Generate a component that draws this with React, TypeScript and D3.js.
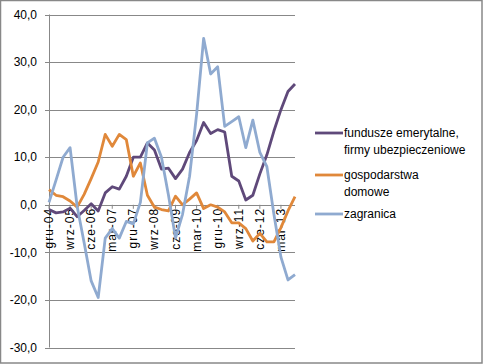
import React from 'react';
import * as d3 from 'd3';

const quarters = [
  'gru-04', 'mar-05', 'cze-05', 'wrz-05', 'gru-05', 'mar-06', 'cze-06', 'wrz-06', 'gru-06',
  'mar-07', 'cze-07', 'wrz-07', 'gru-07', 'mar-08', 'cze-08', 'wrz-08', 'gru-08', 'mar-09',
  'cze-09', 'wrz-09', 'gru-09', 'mar-10', 'cze-10', 'wrz-10', 'gru-10', 'mar-11', 'cze-11',
  'wrz-11', 'gru-11', 'mar-12', 'cze-12', 'wrz-12', 'gru-12', 'mar-13', 'cze-13', 'wrz-13',
];

const fundusze = [
  -1, -1.7, -1.5, -0.7, -2.5, -1.2, 0.2, -1.3, 2.5, 3.8, 3.3, 6, 10, 10, 13, 11.5, 7.5, 7.7,
  5.5, 7.5, 11, 13.5, 17.3, 15, 15.8, 15.3, 6, 5, 1, 2, 6.5, 10.5, 15.5, 20, 23.8, 25.4,
];
const gospodarstwa = [
  3.2, 2, 1.7, 0.8, -0.5, 2.2, 5.5, 9, 14.8, 12.3, 14.8, 13.7, 6, 8.8, 2, -0.5, -1, -1.3,
  1.8, 0, 1.2, 2.5, -0.8, 0, -0.5, -1.5, -3.8, -3.8, -5, -7.6, -6, -7.8, -7.8, -4.8, -1.3, 1.7,
];
const zagranica = [
  0.5, 5.2, 10, 12, -0.3, -8, -16, -19.5, -7, -5, -7, -3.5, -4, 0.5, 13, 14, 10, 2,
  -7, -2, 6, 19, 35, 27.5, 29, 16.5, 17.5, 18.5, 12, 17.8, 11, 8, -2, -11, -15.8, -14.7,
];

const yTicks = [-30, -20, -10, 0, 10, 20, 30, 40];

const series = [
  { name: ['fundusze emerytalne,', 'firmy ubezpieczeniowe'], values: fundusze, color: '#5f497a' },
  { name: ['gospodarstwa', 'domowe'], values: gospodarstwa, color: '#e0883a' },
  { name: ['zagranica'], values: zagranica, color: '#8faad0' },
];

const W = 483;
const H = 364;
const font = '"Liberation Sans", Arial, sans-serif';

export default function App() {
  const x = d3.scalePoint<number>().domain(d3.range(quarters.length)).range([49, 295]);
  const y = d3.scaleLinear().domain([-30, 40]).range([347.5, 14.5]);
  const line = d3
    .line<number>()
    .x((_, i) => x(i) as number)
    .y((d) => y(d));

  const fmt = (v: number) => v.toFixed(1).replace('.', ',');

  // legend rows: y of the first text line for each entry
  const legendY = [133, 175, 214];

  return (
    <svg
      width={W}
      height={H}
      style={{ position: 'absolute', left: 0, top: 0, background: '#fff' }}
      fontFamily={font}
    >
      <rect x={0.5} y={0.5} width={W - 1.5} height={H - 1.5} fill="#fff" stroke="#888" strokeWidth={1.5} />

      {yTicks.map((t) => (
        <g key={t}>
          <line x1={45} x2={295} y1={Math.round(y(t)) + 0.5} y2={Math.round(y(t)) + 0.5} stroke="#888" strokeWidth={1} />
          <text x={37} y={y(t)} dy="0.35em" textAnchor="end" fontSize={12} fill="#000">
            {fmt(t)}
          </text>
        </g>
      ))}
      <line x1={49.5} x2={49.5} y1={y(40)} y2={y(-30)} stroke="#888" strokeWidth={1} />

      {quarters.map((q, i) =>
        i % 3 === 0 ? (
          <g key={q}>
            <line x1={x(i)} x2={x(i)} y1={y(0)} y2={y(0) + 4} stroke="#888" />
            <text
              transform={`translate(${(x(i) as number) + 4},${y(0) + 3}) rotate(-90)`}
              textAnchor="end"
              fontSize={12}
              letterSpacing={1}
              fill="#000"
            >
              {q}
            </text>
          </g>
        ) : null
      )}

      {series.map((s) => (
        <path
          key={s.color}
          d={line(s.values) ?? ''}
          fill="none"
          stroke={s.color}
          strokeWidth={2.8}
          strokeLinejoin="round"
        />
      ))}

      {series.map((s, k) => (
        <g key={'lg' + k}>
          <line x1={315} x2={343} y1={legendY[k]} y2={legendY[k]} stroke={s.color} strokeWidth={2.8} />
          {s.name.map((t, j) => (
            <text key={t} x={344} y={legendY[k] + j * 17} dy="0.35em" fontSize={12} fill="#000">
              {t}
            </text>
          ))}
        </g>
      ))}
    </svg>
  );
}
